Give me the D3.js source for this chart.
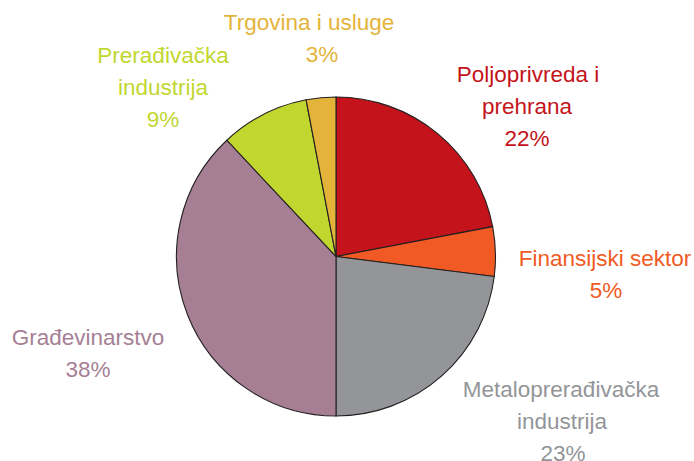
<!DOCTYPE html>
<html><head><meta charset="utf-8">
<script src="https://cdn.jsdelivr.net/npm/d3@7"></script>
<style>html,body{margin:0;padding:0;background:#fff;}svg{display:block;}</style>
</head><body>
<svg id="c" width="694" height="461"></svg>
<script>
const categories = ["Poljoprivreda i prehrana","Finansijski sektor","Metaloprerađivačka industrija","Građevinarstvo","Prerađivačka industrija","Trgovina i usluge"];
const values = [22, 5, 23, 38, 9, 3];
const colors = ["#C4131B","#F15A24","#939598","#A67F95","#C1D72F","#E4B43A"];
const labelLines = [["Poljoprivreda i","prehrana","22%"],["Finansijski sektor","5%"],["Metaloprerađivačka","industrija","23%"],["Građevinarstvo","38%"],["Prerađivačka","industrija","9%"],["Trgovina i usluge","3%"]];
const labelPos = [[527,82],[605,266],[562,397],[88,345],[163,63],[309,30]];
const lineX = [[528,527,527],[605,606],[561,562,563],[88,88],[163,163,163],[309,322]];

const svg = d3.select("#c");
const cx = 336, cy = 256.5, r = 159.5;
const pie = d3.pie().sort(null).value(d => d)(values);
const arc = d3.arc().innerRadius(0).outerRadius(r);
const g = svg.append("g").attr("transform", `translate(${cx},${cy})`);
g.selectAll("path").data(pie).join("path")
  .attr("d", arc)
  .attr("fill", (d,i) => colors[i])
  .attr("stroke", "#231F20")
  .attr("stroke-width", 1.1)
  .attr("stroke-linejoin", "round");

categories.forEach((c, i) => {
  const t = svg.append("text")
    .attr("font-family", "'Liberation Sans', Arial, sans-serif")
    .attr("font-size", "22.5px")
    .attr("fill", colors[i])
    .attr("text-anchor", "middle");
  labelLines[i].forEach((ln, j) => {
    t.append("tspan").attr("x", lineX[i][j]).attr("y", labelPos[i][1] + j*32).text(ln);
  });
});
</script>
</body></html>
